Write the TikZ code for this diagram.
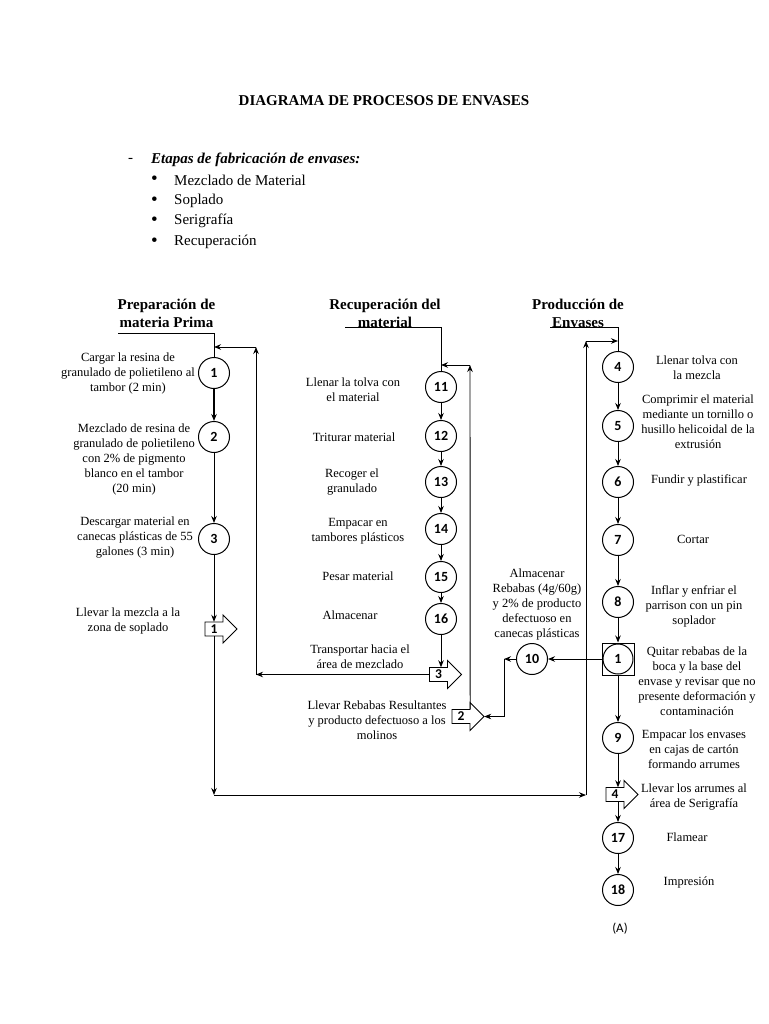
\documentclass[tikz,border=0pt]{standalone}
\usepackage{fontspec}
\setmainfont{Liberation Serif}
\newfontfamily\numfont{Carlito}
\usetikzlibrary{arrows.meta,positioning,calc}

\begin{document}
\begin{tikzpicture}[x=1pt,y=-1pt,>={Stealth[length=7pt,width=5.5pt]},
		opnode/.style={circle,draw,line width=1pt,minimum size=31pt,inner sep=0pt,font=\numfont\bfseries\fontsize{14}{14}\selectfont},
		transnode/.style={rectangle,minimum width=18pt,minimum height=14pt,inner sep=0pt,font=\numfont\bfseries\fontsize{13.5}{13.5}\selectfont},
		stepnote/.style={align=center,inner sep=0pt,font=\fontsize{12.5}{15}\selectfont},
		headnode/.style={align=center,inner sep=0pt,font=\bfseries\fontsize{15}{18}\selectfont},
		listnode/.style={anchor=west,inner sep=0pt,font=\fontsize{15}{18}\selectfont},
		flow/.style={->,line width=0.9pt},
		transarrow/.pic={\draw[line width=0.9pt] (-9,-7) -- (9,-7) -- (9,-14) -- (23,0) -- (9,14) -- (9,7) -- (-9,7) -- cycle;}]
	\useasboundingbox (0,0) rectangle (768,1024);

	% title and list
	\node[headnode] (title) at (384,101) {DIAGRAMA DE PROCESOS DE ENVASES};
	\node[listnode] (dash) at (128,160) {-};
	\node[listnode,font=\bfseries\itshape\fontsize{15}{18}\selectfont] (etapas) at (151,160) {Etapas de fabricación de envases:};
	\foreach \txt [count=\i] in {Mezclado de Material, Soplado, Serigrafía, Recuperación} {
		\node[listnode,font=\fontsize{19}{19}\selectfont] (bul\i) at (151,{180.5+20.6*(\i-1)}) {\textbullet};
		\node[listnode] (item\i) at (174,{180+20.6*(\i-1)}) {\txt};
	}

	% headings
	\node[headnode] (h1) at (166.5,313) {Preparación de\\materia Prima};
	\node[headnode] (h2) at (385,313) {Recuperación del\\material};
	\node[headnode] (h3) at (578,313) {Producción de\\Envases};

	% preparacion
	\node [opnode] (c1) at (214,373) {1};
	\node [opnode] (c2) at (214,437) {2};
	\node [opnode] (c3) at (214,539) {3};
	\node [transnode] (t1) at (214,629) {1};
	\pic at (t1.center) {transarrow};
	\node [stepnote] (n1) at (128,373) {Cargar la resina de\\granulado de polietileno al\\tambor (2 min)};
	\node [stepnote] (n2) at (134,459) {Mezclado de resina de\\granulado de polietileno\\con 2\% de pigmento\\blanco en el tambor\\(20 min)};
	\node [stepnote] (n3) at (135,538) {Descargar material en\\canecas plásticas de 55\\galones (3 min)};
	\node [stepnote] (nt1) at (128,620.5) {Llevar la mezcla a la\\zona de soplado};

	% recuperacion
	\node [opnode] (c11) at (441,387) {11};
	\node [opnode] (c12) at (441,436) {12};
	\node [opnode] (c13) at (441,482) {13};
	\node [opnode] (c14) at (441,529) {14};
	\node [opnode] (c15) at (441,577) {15};
	\node [opnode] (c16) at (441,619) {16};
	\node [transnode] (t3) at (438.5,674.5) {3};
	\pic at (t3.center) {transarrow};
	\node [transnode] (t2) at (461,716.5) {2};
	\pic at (t2.center) {transarrow};
	\node [stepnote] (n11) at (353,389.5) {Llenar la tolva con\\el material};
	\node [stepnote] (n12) at (354,437) {Triturar material};
	\node [stepnote] (n13) at (352,482) {Recoger el\\granulado};
	\node [stepnote] (n14) at (358,531.5) {Empacar en\\tambores plásticos};
	\node [stepnote] (n15) at (358,576) {Pesar material};
	\node [stepnote] (n16) at (350,615) {Almacenar};
	\node [stepnote] (nt3) at (360,657) {Transportar hacia el\\área de mezclado};
	\node [stepnote] (nt2) at (377,720) {Llevar Rebabas Resultantes\\y producto defectuoso a los\\molinos};

	% produccion
	\node [opnode] (c4) at (618,367) {4};
	\node [opnode] (c5) at (618,426) {5};
	\node [opnode] (c6) at (618,482) {6};
	\node [opnode] (c7) at (618,540) {7};
	\node [opnode] (c8) at (618,602) {8};
	\node [draw,line width=1pt,minimum size=32pt,inner sep=0pt] (qbox) at (618,659) {};
	\node [opnode,minimum size=30pt] (q1) at (618,659) {1};
	\node [opnode] (c9) at (618,738) {9};
	\node [transnode] (t4) at (615,794.5) {4};
	\pic at (t4.center) {transarrow};
	\node [opnode] (c17) at (618,838) {17};
	\node [opnode] (c18) at (618,890) {18};
	\node [opnode] (c10) at (532,659) {10};
	\node [stepnote] (n4) at (697,368) {Llenar tolva con\\la mezcla};
	\node [stepnote] (n5) at (698,422) {Comprimir el material\\mediante un tornillo o\\husillo helicoidal de la\\extrusión};
	\node [stepnote] (n6) at (699,480) {Fundir y plastificar};
	\node [stepnote] (n7) at (693,539) {Cortar};
	\node [stepnote] (n8) at (694,606) {Inflar y enfriar el\\parrison con un pin\\soplador};
	\node [stepnote] (nq1) at (697,681.5) {Quitar rebabas de la\\boca y la base del\\envase y revisar que no\\presente deformación y\\contaminación};
	\node [stepnote] (n9) at (694,749) {Empacar los envases\\en cajas de cartón\\formando arrumes};
	\node [stepnote] (nt4) at (694,797) {Llevar los arrumes al\\área de Serigrafía};
	\node [stepnote] (n17) at (687,837) {Flamear};
	\node [stepnote] (n18) at (689,882) {Impresión};
	\node [stepnote] (n10) at (537,604) {Almacenar\\Rebabas (4g/60g)\\y 2\% de producto\\defectuoso en\\canecas plásticas};
	\node [font=\numfont\fontsize{13}{13}\selectfont] (lblA) at (620,929) {(A)};

	% corner points
	\coordinate (r1) at (256,347);
	\coordinate (b2) at (256,674.5);
	\coordinate (r2) at (470,365);
	\coordinate (r3) at (586,341);
	\coordinate (b1) at (214,795);
	\coordinate (b3) at (586,795);
	\coordinate (k10) at (504,659);

	% heading lines
	\draw[line width=0.9pt] (118,333) -- (c1 |- 0,333) -- (c1.north);
	\draw[line width=0.9pt] (345,327) -- (c11 |- 0,327) -- (c11.north);
	\draw[line width=0.9pt] (550,327) -- (c4 |- 0,327) -- (c4.north);

	% preparacion flow
	\draw[flow,line width=1.5pt] (c1) -- (c2);
	\draw[flow] (c2) -- (c3);
	\draw[flow] (c3) -- (t1.north);
	\draw[flow] (t1.south) -- (b1);
	\draw[flow] (b1) -- (b3);
	\draw[flow] (b3) -- (r3);
	\draw[flow] (r3) -- (r3 -| c4);

	% recuperacion flow
	\draw[flow] (c11) -- (c12);
	\draw[flow] (c12) -- (c13);
	\draw[flow] (c13) -- (c14);
	\draw[flow] (c14) -- (c15);
	\draw[flow] (c15) -- (c16);
	\draw[flow] (c16) -- (c16 |- t3.north);
	\draw[flow] (t3.west) -- (b2);
	\draw[flow] (b2) -- (r1);
	\draw[flow] (r1) -- (r1 -| c1);
	\draw[flow] (t2.north east) -- (r2);
	\draw[flow] (r2) -- (r2 -| c11);

	% produccion flow
	\draw[flow] (c4) -- (c5);
	\draw[flow] (c5) -- (c6);
	\draw[flow] (c6) -- (c7);
	\draw[flow] (c7) -- (c8);
	\draw[flow] (c8) -- (qbox);
	\draw[flow] (qbox) -- (c9);
	\draw[flow] (c9) -- (c9 |- t4.north);
	\draw[flow] (t4.south -| c17) -- (c17);
	\draw[flow] (c17) -- (c18);
	\draw[flow] (qbox) -- (c10);
	\draw[flow] (c10) -- (k10);
	\draw[flow] (k10) |- ([xshift=14pt]t2.east);
\end{tikzpicture}
\end{document}
